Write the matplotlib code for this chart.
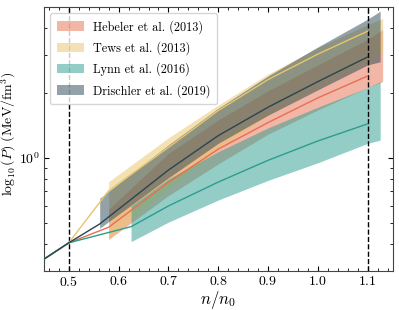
import numpy as np
import matplotlib
matplotlib.use("Agg")
import matplotlib.pyplot as plt
from matplotlib.ticker import AutoMinorLocator

plt.rcParams['font.family'] = 'serif'
plt.rcParams['font.serif'] = ['cmr10']
plt.rcParams['mathtext.fontset'] = 'cm'
plt.rcParams['axes.formatter.use_mathtext'] = True

# Curves (n/n0, P in MeV/fm^3)
heb_n = [0.45, 0.5, 0.58, 0.7, 0.8, 0.9, 1.0, 1.1]
heb_P = [0.340, 0.405, 0.478, 0.772, 1.10, 1.46, 1.90, 2.40]
heb_band_n = [0.58, 0.7, 0.8, 0.9, 1.0, 1.1, 1.13]
heb_lo = [0.42, 0.67, 0.94, 1.29, 1.67, 2.12, 2.26]
heb_hi = [0.58, 1.05, 1.50, 2.05, 2.70, 3.55, 3.94]

tews_n = [0.45, 0.5, 0.58, 0.7, 0.8, 0.9, 1.0, 1.1]
tews_P = [0.340, 0.405, 0.706, 1.12, 1.66, 2.31, 3.03, 3.87]
tews_band_n = [0.58, 0.7, 0.8, 0.9, 1.0, 1.1, 1.13]
tews_lo = [0.42, 0.72, 1.10, 1.57, 2.12, 2.79, 3.05]
tews_hi = [0.777, 1.24, 1.76, 2.45, 3.25, 4.15, 4.43]

lynn_n = [0.45, 0.5, 0.625, 0.7, 0.8, 0.9, 1.0, 1.1]
lynn_P = [0.340, 0.405, 0.481, 0.60, 0.774, 0.976, 1.20, 1.44]
lynn_band_n = [0.625, 0.7, 0.8, 0.9, 1.0, 1.1, 1.125]
lynn_lo = [0.41, 0.505, 0.639, 0.788, 0.951, 1.17, 1.21]
lynn_hi = [0.60, 0.80, 1.07, 1.38, 1.72, 2.12, 2.26]

dri_n = [0.45, 0.5, 0.562, 0.7, 0.8, 0.9, 1.0, 1.1]
dri_P = [0.340, 0.405, 0.495, 0.88, 1.27, 1.72, 2.26, 2.94]
dri_band_n = [0.562, 0.7, 0.8, 0.9, 1.0, 1.1, 1.125]
dri_lo = [0.473, 0.81, 1.17, 1.58, 2.07, 2.70, 2.79]
dri_hi = [0.651, 1.15, 1.70, 2.40, 3.27, 4.40, 4.79]

labels = ["Hebeler et al. (2013)", "Tews et al. (2013)",
          "Lynn et al. (2016)", "Drischler et al. (2019)"]
colors = ['#e76f51', '#e9c46a', '#2a9d8f', '#264653']

fig = plt.figure(figsize=(3.99, 3.10), dpi=100)
ax = fig.add_axes([0.110, 0.126, 0.874, 0.851])

bands = [(heb_band_n, heb_lo, heb_hi), (tews_band_n, tews_lo, tews_hi),
         (lynn_band_n, lynn_lo, lynn_hi), (dri_band_n, dri_lo, dri_hi)]
lines = [(heb_n, heb_P), (tews_n, tews_P), (lynn_n, lynn_P), (dri_n, dri_P)]

for (bn, lo, hi), c, lab in zip(bands, colors, labels):
    ax.fill_between(bn, lo, hi, color=c, alpha=0.5, lw=0, label=lab)

for (n, P), c in zip(lines, colors):
    ax.plot(n, P, color=c, lw=1, zorder=3)

ax.axvline(0.5, color='k', ls='--', lw=1)
ax.axvline(1.1, color='k', ls='--', lw=1)

ax.set_yscale('log')
ax.set_xlim(0.45, 1.15)
ax.set_ylim(0.3, 5)
ax.set_xticks([0.5, 0.6, 0.7, 0.8, 0.9, 1.0, 1.1])
ax.xaxis.set_minor_locator(AutoMinorLocator(5))
ax.tick_params(which='both', direction='in', top=True, right=True, labelsize=10, pad=3)
ax.tick_params(which='major', length=3.5)
ax.tick_params(which='minor', length=2)
for s in ax.spines.values():
    s.set_color('#444444')

ax.set_xlabel(r'$n/n_0$', fontsize=12)
ax.xaxis.set_label_coords(0.5, -0.068)
ax.set_ylabel(r'$\log_{10}(P)\ (\mathrm{MeV/fm^3})$', fontsize=10)
ax.yaxis.set_label_coords(-0.075, 0.52)

ax.legend(loc='upper left', fontsize=8.8, frameon=True, edgecolor='#cccccc',
          handlelength=2.2, handleheight=0.8, labelspacing=0.62, borderpad=0.55)

fig.savefig('out.png', dpi=100)
